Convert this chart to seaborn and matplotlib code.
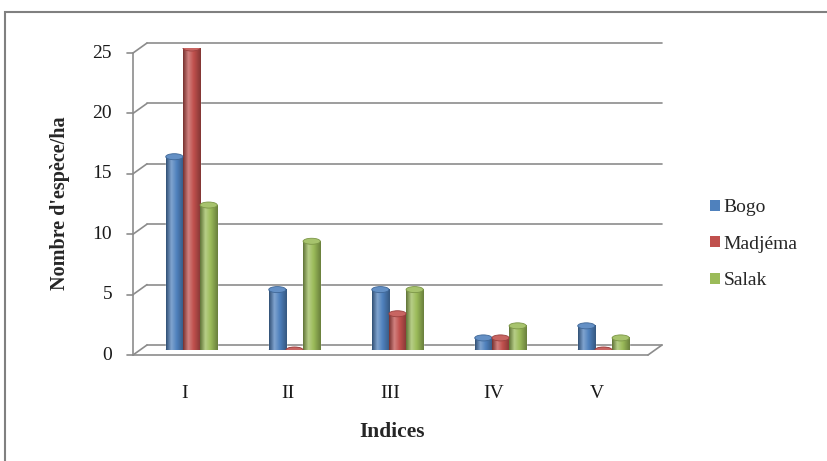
import numpy as np
import pandas as pd
import matplotlib
matplotlib.use("Agg")
import matplotlib.pyplot as plt
import seaborn as sns
from matplotlib.transforms import Affine2D, IdentityTransform
from matplotlib.patches import Ellipse, Patch, Rectangle
from matplotlib.colors import LinearSegmentedColormap, to_rgb

# Number of species per hectare by index class and site
indices = ["I", "II", "III", "IV", "V"]
sites = ["Bogo", "Madjéma", "Salak"]
bogo = [16, 5, 5, 1, 2]
madjema = [25, 0, 3, 1, 0]
salak = [12, 9, 5, 2, 1]
yticks = [0, 5, 10, 15, 20, 25]

colors = ["#4F81BD", "#C0504D", "#9BBB59"]
grid_col = "#8C8C8C"

df = pd.DataFrame({
    "Indice": indices * 3,
    "Site": [sites[0]] * 5 + [sites[1]] * 5 + [sites[2]] * 5,
    "Nombre": bogo + madjema + salak,
})

sns.set_style("white")
plt.rcParams["font.family"] = ["Liberation Serif", "DejaVu Serif"]

W, H = 827, 461
fig = plt.figure(figsize=(W / 100, H / 100), dpi=100)
ax = fig.add_axes([140 / W, (H - 350) / H, 515 / W, (350 - 48) / H])

sns.barplot(data=df, x="Indice", y="Nombre", hue="Site", order=indices,
            hue_order=sites, palette=colors, width=0.5, dodge=True,
            saturation=1, legend=False, ax=ax, zorder=3)

XL, YL = (-0.5, 4.5), (0, 25)
ax.set_xlim(*XL)
ax.set_ylim(*YL)
for s in ax.spines.values():
    s.set_visible(False)
ax.set_xticks([])
ax.set_yticks([])


def shade(c, f):
    r = np.array(to_rgb(c))
    return tuple(np.clip(r * f, 0, 1))


def tint(c, f):
    r = np.array(to_rgb(c))
    return tuple(r + (1 - r) * f)


# cylinder look: horizontal gradient on each bar, rounded base and elliptical top
cap_h = 0.5
for ci, cont in enumerate(ax.containers):
    base = colors[ci]
    cmap = LinearSegmentedColormap.from_list(
        "cyl", [(0, shade(base, 0.62)), (0.3, tint(base, 0.28)),
                (0.6, base), (1, shade(base, 0.68))])
    grad = np.linspace(0, 1, 64).reshape(1, -1)
    for bar in cont.patches:
        x0, w, h = bar.get_x(), bar.get_width(), bar.get_height()
        xc = x0 + w / 2
        ax.add_patch(Ellipse((xc, 0), w, cap_h, facecolor=shade(base, 0.75),
                             edgecolor="none", zorder=2.5))
        if h > 0:
            ax.imshow(grad, extent=(x0, x0 + w, 0, h), aspect="auto",
                      cmap=cmap, zorder=3.5, interpolation="bilinear")
        ax.add_patch(Ellipse((xc, h), w, cap_h, facecolor=tint(base, 0.12),
                             edgecolor=shade(base, 0.8), lw=0.6, zorder=4))

ax.set_xlim(*XL)
ax.set_ylim(*YL)

# pseudo-3D frame: back wall gridlines, floor and front axis
back = ax.transData + Affine2D().translate(7, 5)
front = ax.transData + Affine2D().translate(-7, -5)
lw = 1.2
for k in yticks:
    ax.plot(XL, [k, k], transform=back, color=grid_col, lw=lw,
            clip_on=False, zorder=1)
    p = ax.transData.transform((XL[0], k))
    ax.plot([p[0] - 7, p[0] + 7], [p[1] - 5, p[1] + 5],
            transform=IdentityTransform(), color=grid_col, lw=lw,
            clip_on=False, zorder=1)
    ax.plot([p[0] - 13, p[0] - 7], [p[1] - 5, p[1] - 5],
            transform=IdentityTransform(), color=grid_col, lw=lw,
            clip_on=False, zorder=1)
    ax.text(XL[0], k, str(k), transform=front + Affine2D().translate(-21, 0),
            ha="right", va="center", fontsize=14, color="#1a1a1a")

ax.plot([XL[0], XL[0]], YL, transform=front, color=grid_col, lw=lw,
        clip_on=False, zorder=1)
ax.plot(XL, [0, 0], transform=front, color=grid_col, lw=lw,
        clip_on=False, zorder=5)
pr = ax.transData.transform((XL[1], 0))
ax.plot([pr[0] - 7, pr[0] + 7], [pr[1] - 5, pr[1] + 5],
        transform=IdentityTransform(), color=grid_col, lw=lw,
        clip_on=False, zorder=5)

for i, lab in enumerate(indices):
    ax.text(i, 0, lab, transform=front + Affine2D().translate(0, -38),
            ha="center", va="center", fontsize=14, color="#1a1a1a")

ax.set_xlabel("Indices", fontsize=15.5, fontweight="bold", va="center")
ax.xaxis.set_label_coords((392 - 140) / 515, -(432 - 350) / 302)
ax.set_ylabel("Nombre d'espèce/ha", fontsize=14.5, fontweight="bold",
              va="center")
ax.yaxis.set_label_coords((60 - 140) / 515, (350 - 203) / 302)

handles = [Patch(facecolor=c, edgecolor="none") for c in colors]
fig.legend(handles, sites, loc="center left",
           bbox_to_anchor=(710 / W, 1 - 244 / H), frameon=False,
           fontsize=14, handlelength=0.5, handleheight=0.5,
           handletextpad=0.2, labelspacing=1.0, borderpad=0,
           borderaxespad=0)

# outer chart border
fig.patches.append(Rectangle((5 / W, -0.1), 1.2, 1.1 - 12 / H,
                             transform=fig.transFigure, fill=False,
                             edgecolor="#808080", lw=1.5, zorder=0))

fig.savefig("out.png", dpi=100, facecolor="white")
